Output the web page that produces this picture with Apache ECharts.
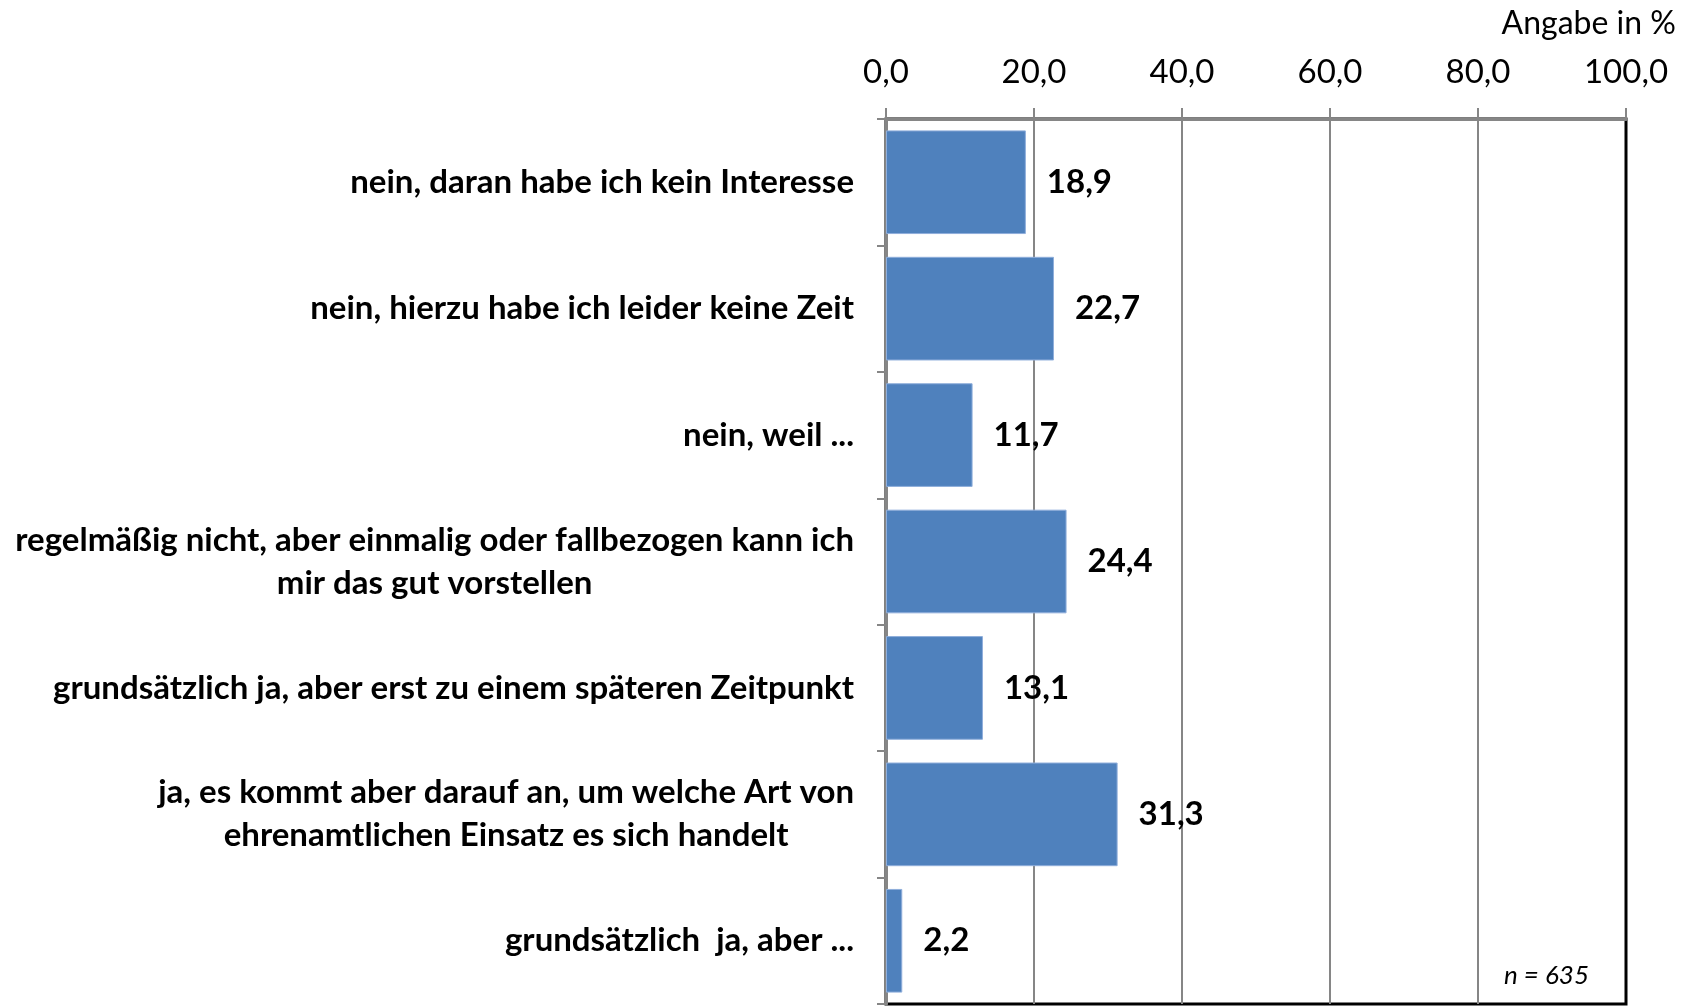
<!DOCTYPE html>
<html>
<head>
<meta charset="utf-8">
<script src="https://cdn.jsdelivr.net/npm/echarts@6/dist/echarts.min.js"></script>
<style>
html,body{margin:0;padding:0;background:#fff;}
#chart{width:1691px;height:1008px;}
</style>
</head>
<body>
<div id="chart"></div>
<script>
const categories = [
  "nein, daran habe ich kein Interesse",
  "nein, hierzu habe ich leider keine Zeit",
  "nein, weil ...",
  "regelmäßig nicht, aber einmalig oder fallbezogen kann ich\nmir das gut vorstellen",
  "grundsätzlich ja, aber erst zu einem späteren Zeitpunkt",
  "ja, es kommt aber darauf an, um welche Art von\nehrenamtlichen Einsatz es sich handelt",
  "grundsätzlich  ja, aber ..."
];
const values = [18.9, 22.7, 11.7, 24.4, 13.1, 31.3, 2.2];
const axisMin = 0, axisMax = 100, axisStep = 20;
const unitLabel = "Angabe in %";
const sampleNote = "n = 635";

const fmt = v => v.toFixed(1).replace('.', ',');
const FONT = 'Lato, "Open Sans", sans-serif';

const chart = echarts.init(document.getElementById('chart'));
chart.setOption({
  animation: false,
  backgroundColor: '#fff',
  title: [
    { text: unitLabel, right: 10, top: 1,
      textStyle: { fontFamily: FONT, fontSize: 32, fontWeight: 'normal', color: '#000', lineHeight: 36 } },
    { text: sampleNote, right: 97, top: 957,
      textStyle: { fontFamily: FONT, fontSize: 26, fontWeight: 'normal', fontStyle: 'italic', color: '#000', lineHeight: 28 } }
  ],
  grid: { left: 886, top: 119, width: 740, height: 885, show: true, borderColor: '#000', borderWidth: 3, backgroundColor: 'transparent' },
  xAxis: {
    type: 'value', position: 'top', min: axisMin, max: axisMax, interval: axisStep,
    axisLine: { show: true, lineStyle: { color: '#868686', width: 3 } },
    axisTick: { show: true, length: 11, lineStyle: { color: '#868686', width: 2 } },
    splitLine: { show: true, showMaxLine: false, lineStyle: { color: '#868686', width: 2 } },
    axisLabel: { margin: 30, fontFamily: FONT, fontSize: 33, color: '#000', formatter: v => fmt(v) }
  },
  yAxis: {
    type: 'category', inverse: true, data: categories,
    axisLine: { show: true, lineStyle: { color: '#868686', width: 3 } },
    axisTick: { show: true, length: 9, lineStyle: { color: '#868686', width: 2 } },
    axisLabel: {
      margin: 32, align: 'right',
      formatter: v => v.split('\n').map(s => '{c|' + s + '}').join('\n'),
      rich: { c: { align: 'center', fontFamily: FONT, fontSize: 33, fontWeight: 'bold', color: '#000', lineHeight: 43 } }
    }
  },
  series: [{
    type: 'bar', data: values, barCategoryGap: '18%',
    itemStyle: { color: '#4F81BD', borderColor: '#8FAEDB', borderWidth: 1 },
    label: { show: true, position: 'right', distance: 21, formatter: p => fmt(p.value),
      fontFamily: FONT, fontSize: 33, fontWeight: 'bold', color: '#000' }
  }]
});
</script>
</body>
</html>
